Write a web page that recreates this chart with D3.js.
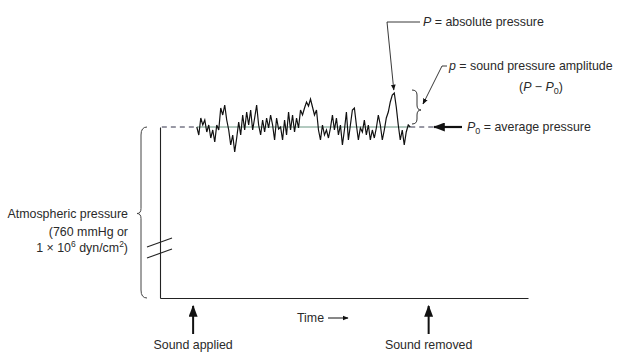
<!DOCTYPE html>
<html>
<head>
<meta charset="utf-8">
<script src="https://cdn.jsdelivr.net/npm/d3@7"></script>
<style>
  body { margin: 0; background: #fff; }
  svg text { font-family: "Liberation Sans", Arial, sans-serif; font-size: 12.4px; fill: #2a2a2a; }
</style>
</head>
<body>
<svg width="636" height="355"></svg>
<script>
// data
const timeDomain = [0, 100];
const pressureDomain = [0, 100];      // % of atmospheric pressure, P0 = 100
const P0 = 100;
const soundOn = 9, soundOff = 73;
const noiseStart = 10, noiseEnd = 68;
const dashEnd = 74.5;
// sound pressure deviation samples (magnified, arbitrary units)
const noise = [0,-8,9,2,7,-5,2,-11,-3,-15,
  2,-3,19,12,22,7,-3,-18,-8,-25,
  -11,5,-8,12,-3,15,2,17,-3,9,
  22,2,-8,7,-5,9,-1,12,2,-13,
  9,-2,0,-13,7,-8,15,-3,12,-5,
  9,-1,17,12,19,25,21,28,20,12,
  17,-3,-13,2,-8,-3,-11,-1,12,-3,
  9,-8,2,-18,-3,15,-13,2,17,19,
  2,-13,-1,-5,7,-8,2,-13,-3,-11,
  -1,12,2,-13,-3,9,15,25,32,34,
  20,2,-13,-3,-18,-5,2,0];

const svg = d3.select('svg');

const x = d3.scaleLinear().domain(timeDomain).range([160, 528]);
const y = d3.scaleLinear().domain(pressureDomain).range([298, 127]);
// magnified scale for the fluctuation around P0
const dev = d3.scaleLinear().domain([-40, 40]).range([y(P0) + 40, y(P0) - 40]);

const defs = svg.append('defs');
defs.append('marker')
    .attr('id', 'head')
    .attr('viewBox', '0 0 10 10')
    .attr('refX', 9).attr('refY', 5)
    .attr('markerWidth', 6).attr('markerHeight', 6)
    .attr('markerUnits', 'userSpaceOnUse')
    .attr('orient', 'auto')
  .append('path').attr('d', 'M0,1L10,5L0,9Z').attr('fill', '#111');
defs.append('marker')
    .attr('id', 'big')
    .attr('viewBox', '0 0 10 10')
    .attr('refX', 9).attr('refY', 5)
    .attr('markerWidth', 12).attr('markerHeight', 9)
    .attr('markerUnits', 'userSpaceOnUse')
    .attr('orient', 'auto')
    .attr('preserveAspectRatio', 'none')
  .append('path').attr('d', 'M0,0L10,5L0,10Z').attr('fill', '#111');

// axes: plain lines, no ticks
svg.append('g')
    .attr('transform', `translate(0,${y(0)})`)
    .call(d3.axisBottom(x).ticks(0).tickSizeOuter(0))
    .select('.domain').attr('stroke', '#222').attr('stroke-width', 1.2);
svg.append('g')
    .attr('transform', `translate(${x(0)},0)`)
    .call(d3.axisLeft(y).ticks(0).tickSizeOuter(0))
    .select('.domain').attr('stroke', '#222').attr('stroke-width', 1.1);

// axis break
[0, 11].forEach(o => {
  svg.append('line')
    .attr('x1', x(0) - 13).attr('y1', 247 + o)
    .attr('x2', x(0) + 12).attr('y2', 238 + o)
    .attr('stroke', '#222').attr('stroke-width', 1.1);
});

// P0 dashed line
const dashLine = d3.line().x(d => x(d)).y(() => y(P0));
svg.append('path').attr('d', dashLine([0.5, noiseStart]))
    .attr('fill', 'none').attr('stroke', '#33334a').attr('stroke-width', 1)
    .attr('stroke-dasharray', '5,4');
svg.append('path').attr('d', dashLine([noiseStart, noiseEnd]))
    .attr('fill', 'none').attr('stroke', '#3f7a5f').attr('stroke-width', 0.8);
svg.append('path').attr('d', dashLine([noiseEnd, dashEnd]))
    .attr('fill', 'none').attr('stroke', '#33334a').attr('stroke-width', 1)
    .attr('stroke-dasharray', '5,4');

// fluctuating pressure
const step = (noiseEnd - noiseStart) / (noise.length - 1);
const line = d3.line()
    .x((d, i) => x(noiseStart + i * step))
    .y(d => dev(d));
svg.append('path').attr('d', line(noise))
    .attr('fill', 'none').attr('stroke', '#111').attr('stroke-width', 1.2);

// left brace
const by0 = y(P0), by1 = y(0), bm = (by0 + by1) / 2 + 1;
svg.append('path')
    .attr('d', `M147,${by0} Q141,${by0} 141,${by0 + 8} L141,${bm - 5} Q141,${bm} 137,${bm}
                Q141,${bm} 141,${bm + 5} L141,${by1 - 8} Q141,${by1} 147,${by1}`)
    .attr('fill', 'none').attr('stroke', '#444').attr('stroke-width', 1);

svg.append('text').attr('x', 128).attr('y', bm + 4).attr('text-anchor', 'end')
    .text('Atmospheric pressure');
svg.append('text').attr('x', 128).attr('y', bm + 22).attr('text-anchor', 'end')
    .text('(760 mmHg or');
const t3 = svg.append('text').attr('x', 128).attr('y', bm + 38).attr('text-anchor', 'end');
t3.append('tspan').text('1 \u00D7 10');
t3.append('tspan').attr('dy', -5).attr('font-size', 8.5).text('6');
t3.append('tspan').attr('dy', 5).text(' dyn/cm');
t3.append('tspan').attr('dy', -5).attr('font-size', 8.5).text('2');
t3.append('tspan').attr('dy', 5).text(')');

// sound applied / removed
[[soundOn, 'Sound applied'], [soundOff, 'Sound removed']].forEach(([t, label]) => {
  svg.append('line')
    .attr('x1', x(t)).attr('y1', 334).attr('x2', x(t)).attr('y2', 306)
    .attr('stroke', '#111').attr('stroke-width', 2)
    .attr('marker-end', 'url(#big)');
  svg.append('text').attr('x', x(t)).attr('y', 349).attr('text-anchor', 'middle').text(label);
});

// time label
svg.append('text').attr('x', 297).attr('y', 322).text('Time');
svg.append('line').attr('x1', 328).attr('y1', 318).attr('x2', 348).attr('y2', 318)
    .attr('stroke', '#111').attr('stroke-width', 1)
    .attr('marker-end', 'url(#head)');

// P0 arrow + label
svg.append('line').attr('x1', 462).attr('y1', y(P0)).attr('x2', 434).attr('y2', y(P0))
    .attr('stroke', '#111').attr('stroke-width', 2.2)
    .attr('marker-end', 'url(#big)');
const tp0 = svg.append('text').attr('x', 467).attr('y', y(P0) + 4);
tp0.append('tspan').attr('font-style', 'italic').text('P');
tp0.append('tspan').attr('dy', 3).attr('font-size', 9).text('0');
tp0.append('tspan').attr('dy', -3).text(' = average pressure');

// absolute pressure leader
svg.append('path').attr('d', `M420,22 L387,22 L${x(noiseStart + 99 * step) - 0.5},${dev(34) - 3}`)
    .attr('fill', 'none').attr('stroke', '#222').attr('stroke-width', 0.9)
    .attr('marker-end', 'url(#head)');
const tP = svg.append('text').attr('x', 423).attr('y', 26);
tP.append('tspan').attr('font-style', 'italic').text('P');
tP.append('tspan').text(' = absolute pressure');

// amplitude brace + leader
svg.append('path')
    .attr('d', 'M412,90 Q417,90 417,95 L417,105 Q417,110 421,110 Q417,110 417,115 L417,119 Q417,124 412,124')
    .attr('fill', 'none').attr('stroke', '#333').attr('stroke-width', 1);
svg.append('path').attr('d', 'M447,66 L442,66 L423,104')
    .attr('fill', 'none').attr('stroke', '#222').attr('stroke-width', 0.9)
    .attr('marker-end', 'url(#head)');
const tp = svg.append('text').attr('x', 449).attr('y', 70);
tp.append('tspan').attr('font-style', 'italic').text('p');
tp.append('tspan').text(' = sound pressure amplitude');
const tpp = svg.append('text').attr('x', 541).attr('y', 91).attr('text-anchor', 'middle');
tpp.append('tspan').text('(');
tpp.append('tspan').attr('font-style', 'italic').text('P');
tpp.append('tspan').text(' \u2212 ');
tpp.append('tspan').attr('font-style', 'italic').text('P');
tpp.append('tspan').attr('dy', 3).attr('font-size', 9).text('0');
tpp.append('tspan').attr('dy', -3).text(')');
</script>
</body>
</html>
